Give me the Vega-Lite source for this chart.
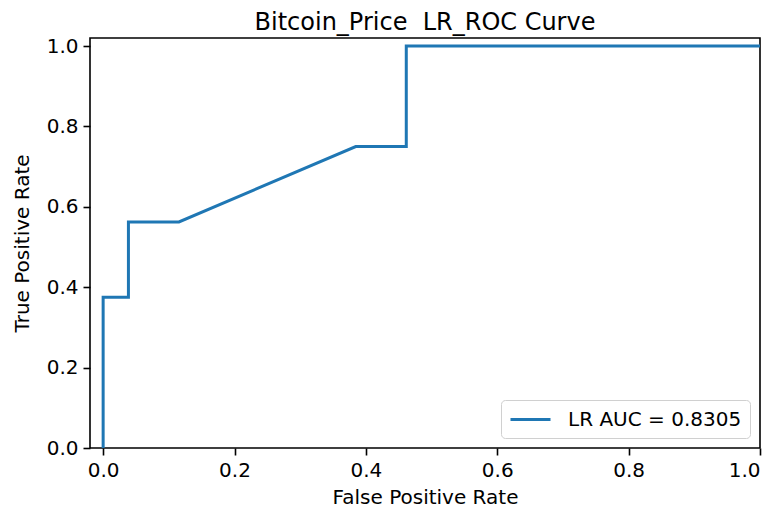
{
  "$schema": "https://vega.github.io/schema/vega-lite/v6.json",
  "autosize": "none",
  "width": 670,
  "height": 410,
  "padding": {"left": 90, "top": 38, "right": 14, "bottom": 60},
  "background": "white",
  "title": {
    "text": "Bitcoin_Price \u00a0LR_ROC Curve",
    "font": "DejaVu Sans",
    "fontSize": 24,
    "fontWeight": "normal",
    "color": "black",
    "anchor": "middle",
    "baseline": "alphabetic",
    "offset": -18
  },
  "data": {
    "values": [
      {"i": 0, "fpr": 0.0, "tpr": 0.0, "model": "LR AUC = 0.8305"},
      {"i": 1, "fpr": 0.0, "tpr": 0.375, "model": "LR AUC = 0.8305"},
      {"i": 2, "fpr": 0.0385, "tpr": 0.375, "model": "LR AUC = 0.8305"},
      {"i": 3, "fpr": 0.0385, "tpr": 0.5625, "model": "LR AUC = 0.8305"},
      {"i": 4, "fpr": 0.1154, "tpr": 0.5625, "model": "LR AUC = 0.8305"},
      {"i": 5, "fpr": 0.3846, "tpr": 0.75, "model": "LR AUC = 0.8305"},
      {"i": 6, "fpr": 0.4615, "tpr": 0.75, "model": "LR AUC = 0.8305"},
      {"i": 7, "fpr": 0.4615, "tpr": 1.0, "model": "LR AUC = 0.8305"},
      {"i": 8, "fpr": 1.0, "tpr": 1.0, "model": "LR AUC = 0.8305"}
    ]
  },
  "mark": {"type": "line", "strokeWidth": 3, "clip": true},
  "encoding": {
    "x": {
      "field": "fpr",
      "type": "quantitative",
      "scale": {"domain": [-0.02, 1.0], "nice": false, "zero": false},
      "axis": {
        "title": "False Positive Rate",
        "values": [0, 0.2, 0.4, 0.6, 0.8, 1.0],
        "format": ".1f",
        "titlePadding": 7
      }
    },
    "y": {
      "field": "tpr",
      "type": "quantitative",
      "scale": {"domain": [0, 1.02], "nice": false, "zero": false},
      "axis": {
        "title": "True Positive Rate",
        "values": [0, 0.2, 0.4, 0.6, 0.8, 1.0],
        "format": ".1f",
        "titlePadding": 14
      }
    },
    "order": {"field": "i", "type": "quantitative"},
    "color": {
      "field": "model",
      "type": "nominal",
      "scale": {"range": ["#1f77b4"]},
      "legend": {
        "title": null,
        "orient": "bottom-right",
        "offset": 10,
        "symbolType": "M-1,0H3",
        "symbolSize": 400,
        "symbolStrokeWidth": 3,
        "symbolFillColor": "transparent",
        "labelFont": "DejaVu Sans",
        "labelFontSize": 20,
        "labelColor": "black",
        "labelOffset": 36,
        "labelLimit": 0,
        "fillColor": "rgba(255,255,255,0.8)",
        "strokeColor": "#d0d0d0",
        "cornerRadius": 4,
        "padding": 8
      }
    }
  },
  "config": {
    "view": {"stroke": "black", "strokeWidth": 1.6},
    "axis": {
      "grid": false,
      "domain": false,
      "ticks": true,
      "tickColor": "black",
      "tickWidth": 1.6,
      "tickSize": 7,
      "labelFont": "DejaVu Sans",
      "labelFontSize": 20,
      "labelColor": "black",
      "labelPadding": 5,
      "titleFont": "DejaVu Sans",
      "titleFontSize": 20,
      "titleFontWeight": "normal",
      "titleColor": "black"
    }
  }
}
